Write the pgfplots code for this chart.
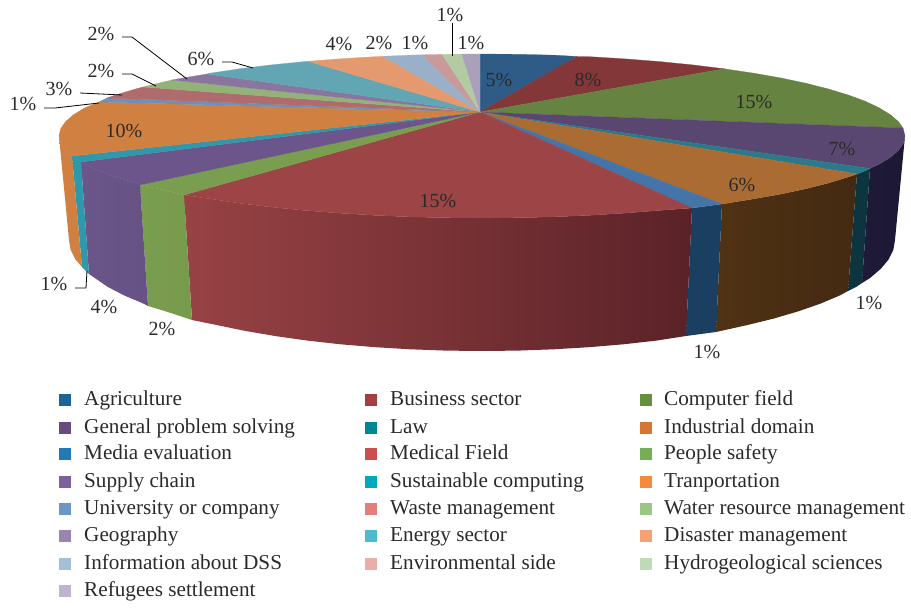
\documentclass[border=0pt]{standalone}
\usepackage{fontspec}
\setmainfont{Liberation Serif}
\usepackage{pgfplots}
\pgfplotsset{compat=1.18}
\definecolor{txt}{HTML}{2B2A29}
\newcommand{\hc}[1]{\definecolor{h#1}{HTML}{#1}}
\hc{1F1A38}\hc{1C1733}\hc{0C3540}\hc{503214}\hc{432A12}\hc{1A3F60}\hc{984244}\hc{5A2228}\hc{7A9E50}\hc{779A4D}\hc{6B558A}\hc{665285}\hc{2F98AB}\hc{D08040}
\hc{2F5C87}\hc{843739}\hc{668342}\hc{594771}\hc{2B7A8A}\hc{AB6C33}\hc{4474A8}\hc{9C4446}\hc{6F8FB8}\hc{B06C6C}\hc{92B27A}\hc{8A759F}\hc{62A5B3}\hc{E49A6E}\hc{9AAFC8}\hc{C99A9A}\hc{B3CBA3}\hc{AAA0BC}
\hc{1A6496}\hc{A43E40}\hc{65903F}\hc{664A80}\hc{008796}\hc{D67634}\hc{2279B5}\hc{C9504C}\hc{76AE57}\hc{7C60A0}\hc{00A9BC}\hc{F58A3E}\hc{6B97C6}\hc{E27F7D}\hc{9BC786}\hc{9A84B0}\hc{4CBCCC}\hc{F6A074}\hc{A5BFD8}\hc{E9AEAB}\hc{BFDAB6}\hc{C0B3CF}
\newcommand{\Wall}[3]{\addplot[draw=none,left color=h#1,right color=h#2,forget plot] coordinates {#3} --cycle;}
\newcommand{\Face}[2]{\addplot[draw=h#1,line width=0.25pt,fill=h#1,forget plot] coordinates {(480,112) #2} --cycle;}
\newcommand{\lgfont}{\fontsize{21.2}{23}\selectfont}
\newcommand{\pcfont}{\fontsize{20}{22}\selectfont}
% x1 x2 xtext y1 y2 ybase colour text
\newcommand{\Lg}[8]{%
 \addplot[draw=none,fill=h#7,forget plot] coordinates {(#1,#4) (#2,#4) (#2,#5) (#1,#5)} --cycle;
 \node[anchor=base west,text=txt,inner sep=0pt] at (axis cs:#3,#6) {\lgfont #8};}
\newcommand{\Pc}[3]{\node[text=txt,inner sep=0pt] at (axis cs:#1,#2) {\pcfont #3\%};}
\begin{document}
\begin{tikzpicture}
\begin{axis}[scale only axis,width=911pt,height=608pt,xmin=0,xmax=911,ymin=0,ymax=608,y dir=reverse,axis lines=none,clip=false]
\path (axis cs:0,0) rectangle (axis cs:911,608);
% side walls
\Wall{1F1A38}{1C1733}{(905,136) (903.4,143.1) (898.6,150.2) (890.6,157.2) (879.5,164) (870,168.5) (862,283) (870.1,278) (880.9,268.7) (888.7,259.3) (893.4,249.7) (895,240)}
\Wall{0C3540}{0C3540}{(870,168.5) (865.4,170.7) (857,174) (848,291) (856.3,286.9) (862,283)}
\Wall{503214}{432A12}{(857,174) (848.3,177) (828.5,183) (806,188.7) (781.1,194) (753.9,198.8) (722,204) (716,332) (747.5,325) (774,318.5) (798.4,311.3) (820.3,303.7) (839.7,295.5) (848,291)}
\Wall{1A3F60}{1A3F60}{(722,204) (692,208) (686,336) (716,332)}
\Wall{984244}{5A2228}{(692,208) (660.8,210.3) (626.7,213) (591.5,215.2) (555.4,216.8) (518.9,217.7) (482,218) (445.1,217.7) (408.6,216.8) (372.5,215.2) (337.3,213) (303.2,210.3) (270.5,207) (239.4,203.2) (210.1,198.8) (184,195) (192,320) (216.5,325) (245.1,330.9) (275.5,336.1) (307.5,340.6) (340.7,344.3) (375.1,347.2) (410.3,349.3) (446,350.6) (482,351) (518,350.6) (553.7,349.3) (588.9,347.2) (623.3,344.3) (656.5,340.6) (686,336)}
\Wall{7A9E50}{779A4D}{(184,195) (158,188.7) (140,185) (148,306) (165.6,311.3) (192,320)}
\Wall{6B558A}{665285}{(140,185) (135.5,183) (115.7,177) (98.6,170.7) (81,162) (89,274) (107.7,286.9) (124.3,295.5) (143.7,303.7) (148,306)}
\Wall{2F98AB}{2F98AB}{(81,162) (72,156) (82,267) (89,274)}
\Wall{D08040}{D08040}{(72,156) (65.4,150.2) (60.6,143.1) (59,136) (69,240) (70.6,249.7) (75.3,259.3) (82,267)}
% top faces
\Face{2F5C87}{(480,54) (518.9,54.3) (555.4,55.2) (577,56.5)}
\Face{843739}{(577,56.5) (591.5,56.8) (626.7,59) (660.8,61.7) (693.5,65) (724,68.8)}
\Face{668342}{(724,68.8) (753.9,73.2) (781.1,78) (806,83.3) (828.5,89) (848.3,95) (865.4,101.3) (879.5,108) (890.6,114.8) (898.6,121.8) (903,128)}
\Face{594771}{(903,128) (905,136) (903.4,143.1) (898.6,150.2) (890.6,157.2) (879.5,164) (870,168.5)}
\Face{2B7A8A}{(870,168.5) (865.4,170.7) (857,174)}
\Face{AB6C33}{(857,174) (848.3,177) (828.5,183) (806,188.7) (781.1,194) (753.9,198.8) (722,204)}
\Face{4474A8}{(722,204) (692,208)}
\Face{9C4446}{(692,208) (660.8,210.3) (626.7,213) (591.5,215.2) (555.4,216.8) (518.9,217.7) (482,218) (445.1,217.7) (408.6,216.8) (372.5,215.2) (337.3,213) (303.2,210.3) (270.5,207) (239.4,203.2) (210.1,198.8) (184,195)}
\Face{7A9E50}{(184,195) (158,188.7) (140,185)}
\Face{6B558A}{(140,185) (135.5,183) (115.7,177) (98.6,170.7) (81,162)}
\Face{2F98AB}{(81,162) (72,156)}
\Face{D08040}{(72,156) (65.4,150.2) (60.6,143.1) (59,136) (60.6,128.9) (65.4,121.8) (73.4,114.8) (84.5,108) (99,102)}
\Face{6F8FB8}{(99,102) (107,98)}
\Face{B06C6C}{(107,98) (115.7,95) (135.5,89) (143,87)}
\Face{92B27A}{(143,87) (158,83.3) (172,80)}
\Face{8A759F}{(172,80) (182.9,78) (207,74)}
\Face{62A5B3}{(207,74) (210.1,73.2) (239.4,68.8) (270.5,65) (303.2,61.7) (308,61.3)}
\Face{E49A6E}{(308,61.3) (337.3,59) (372.5,56.8) (383,56.3)}
\Face{9AAFC8}{(383,56.3) (408.6,55.2) (423,54.8)}
\Face{C99A9A}{(423,54.8) (442,54.4)}
\Face{B3CBA3}{(442,54.4) (445.1,54.3) (462,54.1)}
\Face{AAA0BC}{(462,54.1) (480,54)}
% leaders
\addplot[black,line width=0.8pt,forget plot] coordinates {(75,288) (86,288) (87,271)};
\addplot[black,line width=0.8pt,forget plot] coordinates {(44,108) (55,108) (99,103)};
\addplot[black,line width=0.8pt,forget plot] coordinates {(80,93) (122,95)};
\addplot[black,line width=0.8pt,forget plot] coordinates {(122,74) (132,74) (156,86)};
\addplot[black,line width=0.8pt,forget plot] coordinates {(122,37) (132,37) (187,79)};
\addplot[black,line width=0.8pt,forget plot] coordinates {(222,62) (232,62) (253,68)};
\addplot[black,line width=0.8pt,forget plot] coordinates {(452,23) (452,56)};
% value labels
\Pc{499}{80}{5}
\Pc{588}{80}{8}
\Pc{754}{102}{15}
\Pc{842}{149}{7}
\Pc{742}{185}{6}
\Pc{707}{352}{1}
\Pc{869}{303}{1}
\Pc{438}{201}{15}
\Pc{162}{329}{2}
\Pc{104}{307}{4}
\Pc{54}{284}{1}
\Pc{124}{131}{10}
\Pc{23}{104}{1}
\Pc{59}{89}{3}
\Pc{101}{71}{2}
\Pc{101}{34}{2}
\Pc{201}{59}{6}
\Pc{339}{44}{4}
\Pc{379}{43}{2}
\Pc{415}{43}{1}
\Pc{450}{15}{1}
\Pc{471}{43}{1}
% legend
\Lg{59}{71}{84}{394}{406}{405}{1A6496}{Agriculture}
\Lg{365}{377}{390}{394}{406}{405}{A43E40}{Business sector}
\Lg{640}{652}{664}{394}{406}{405}{65903F}{Computer field}
\Lg{59}{71}{84}{422}{434}{433}{664A80}{General problem solving}
\Lg{365}{377}{390}{422}{434}{433}{008796}{Law}
\Lg{640}{652}{664}{422}{434}{433}{D67634}{Industrial domain}
\Lg{59}{71}{84}{448}{460}{459}{2279B5}{Media evaluation}
\Lg{365}{377}{390}{448}{460}{459}{C9504C}{Medical Field}
\Lg{640}{652}{664}{448}{460}{459}{76AE57}{People safety}
\Lg{59}{71}{84}{476}{488}{487}{7C60A0}{Supply chain}
\Lg{365}{377}{390}{476}{488}{487}{00A9BC}{Sustainable computing}
\Lg{640}{652}{664}{476}{488}{487}{F58A3E}{Tranportation}
\Lg{59}{71}{84}{503}{515}{514}{6B97C6}{University or company}
\Lg{365}{377}{390}{503}{515}{514}{E27F7D}{Waste management}
\Lg{640}{652}{664}{503}{515}{514}{9BC786}{Water resource management}
\Lg{59}{71}{84}{530}{542}{541}{9A84B0}{Geography}
\Lg{365}{377}{390}{530}{542}{541}{4CBCCC}{Energy sector}
\Lg{640}{652}{664}{530}{542}{541}{F6A074}{Disaster management}
\Lg{59}{71}{84}{558}{570}{569}{A5BFD8}{Information about DSS}
\Lg{365}{377}{390}{558}{570}{569}{E9AEAB}{Environmental side}
\Lg{640}{652}{664}{558}{570}{569}{BFDAB6}{Hydrogeological sciences}
\Lg{59}{71}{84}{585}{597}{596}{C0B3CF}{Refugees settlement}
\end{axis}
\end{tikzpicture}
\end{document}
